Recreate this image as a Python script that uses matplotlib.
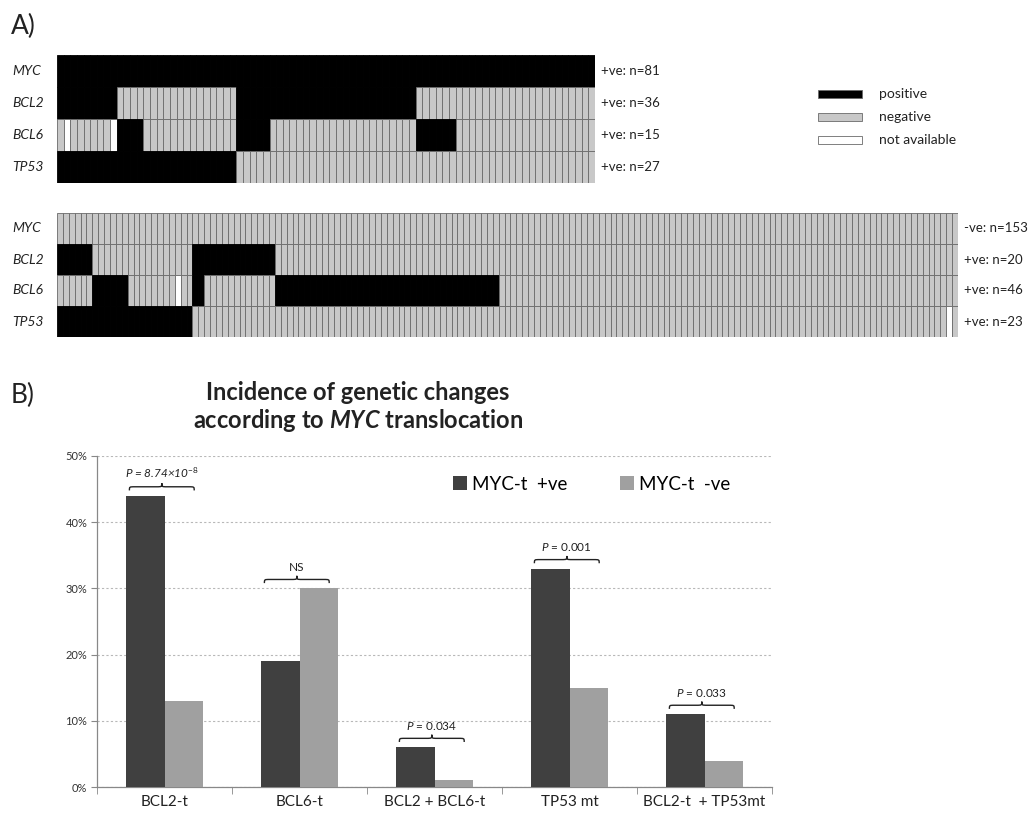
import numpy as np
import matplotlib.pyplot as plt
from matplotlib.path import Path
from matplotlib.patches import PathPatch, Rectangle
from matplotlib.transforms import blended_transform_factory

plt.rcParams['font.family'] = ['Lato', 'DejaVu Sans']
plt.rcParams['mathtext.fontset'] = 'custom'
plt.rcParams['mathtext.rm'] = 'Lato'
plt.rcParams['mathtext.it'] = 'Lato:italic'
plt.rcParams['mathtext.bf'] = 'Lato:bold'
plt.rcParams['mathtext.bfit'] = 'Lato:bold:italic'

# ---- panel A data: P = positive, N = negative, A = not available ----
genes = ["MYC", "BCL2", "BCL6", "TP53"]

top_rows = [
    "P" * 81,
    "P" * 9 + "N" * 18 + "P" * 27 + "N" * 27,
    "N" + "A" + "N" * 6 + "A" + "P" * 4 + "N" * 14 + "P" * 5 + "N" * 22 + "P" * 6 + "N" * 21,
    "P" * 27 + "N" * 54,
]
top_labels = ["+ve: n=81", "+ve: n=36", "+ve: n=15", "+ve: n=27"]

bottom_rows = [
    "N" * 153,
    "P" * 6 + "N" * 17 + "P" * 14 + "N" * 116,
    "N" * 6 + "P" * 6 + "N" * 8 + "A" + "N" * 2 + "P" * 2 + "N" * 12 + "P" * 38 + "N" * 78,
    "P" * 23 + "N" * 128 + "A" + "N",
]
bottom_labels = ["-ve: n=153", "+ve: n=20", "+ve: n=46", "+ve: n=23"]

status_names = ["positive", "negative", "not available"]

# ---- panel B data ----
categories = ["BCL2-t", "BCL6-t", "BCL2 + BCL6-t", "TP53 mt", "BCL2-t  + TP53mt"]
myc_pos = [44, 19, 6, 33, 11]
myc_neg = [13, 30, 1, 15, 4]
p_texts = [r"$P$ = 8.74×10$^{\mathit{-8}}$", "NS", r"$P$ = 0.034",
           r"$P$ = 0.001", r"$P$ = 0.033"]

face = {"P": "black", "N": "#c8c8c8", "A": "white"}
edge = {"P": "black", "N": "#6a6a6a", "A": "#6a6a6a"}

fig = plt.figure(figsize=(10.34, 8.17), dpi=100)
W, H = 1034.0, 817.0


def draw_grid(rect, rows, labels):
    ax = fig.add_axes(rect)
    n = len(rows[0])
    for r, row in enumerate(rows):
        ax.bar(np.arange(n), 1, bottom=r, width=1, align='edge',
               color=[face[c] for c in row], edgecolor=[edge[c] for c in row],
               linewidth=0.6)
    ax.set_xlim(0, n)
    ax.set_ylim(len(rows), 0)
    ax.axis('off')
    tr = blended_transform_factory(fig.transFigure, ax.transData)
    for r, g in enumerate(genes):
        ax.text(12 / W, r + 0.5, g, transform=tr, va='center', ha='left',
                fontsize=10, style='italic', color='#222222')
        ax.annotate(labels[r], (n, r + 0.5), xytext=(4, 0),
                    textcoords='offset points', va='center', ha='left',
                    fontsize=9.5, color='#222222', annotation_clip=False)
    return ax


draw_grid([57 / W, 1 - 183 / H, 538 / W, 128 / H], top_rows, top_labels)
draw_grid([57 / W, 1 - 337 / H, 901 / W, 124 / H], bottom_rows, bottom_labels)

# legend for panel A
for i, (key, name) in enumerate(zip("PNA", status_names)):
    yc = 1 - (94 + i * 23) / H
    fig.add_artist(Rectangle((818 / W, yc - 4 / H), 44 / W, 8 / H,
                             transform=fig.transFigure, facecolor=face[key],
                             edgecolor='#6a6a6a', linewidth=0.6))
    fig.text(879 / W, yc, name, va='center', ha='left', fontsize=10, color='#222222')

fig.text(11 / W, 1 - 26 / H, "A)", fontsize=19, va='center', ha='left', color='#222222')
fig.text(11 / W, 1 - 395 / H, "B)", fontsize=19, va='center', ha='left', color='#222222')
fig.text(358 / W, 1 - 392 / H, "Incidence of genetic changes", fontsize=17,
         weight='bold', ha='center', va='center', color='#222222')
fig.text(358 / W, 1 - 421 / H, r"according to $\mathbfit{MYC}$ translocation",
         fontsize=17, weight='bold', ha='center', va='center', color='#222222')

# ---- panel B chart ----
ax = fig.add_axes([97 / W, 1 - 787 / H, 675 / W, 331 / H])
x = np.arange(len(categories))
w = 0.284
ax.bar(x - w / 2, myc_pos, w, color='#404040', label='MYC-t  +ve', zorder=3)
ax.bar(x + w / 2, myc_neg, w, color='#a0a0a0', label='MYC-t  -ve', zorder=3)
ax.set_xlim(-0.5, len(categories) - 0.5)
ax.set_ylim(0, 50)
ax.set_yticks(range(0, 51, 10))
ax.set_yticklabels([f"{v}%" for v in range(0, 51, 10)], fontsize=8, color='#333333')
ax.yaxis.grid(True, color='#b8b8b8', linestyle=(0, (2, 2)), linewidth=0.8, zorder=0)
ax.set_axisbelow(True)
ax.set_xticks(x)
ax.set_xticklabels(categories, fontsize=11, color='#222222')
ax.set_xticks(np.arange(-0.5, len(categories)), minor=True)
ax.tick_params(axis='x', which='major', length=0, pad=6)
ax.tick_params(axis='x', which='minor', length=5, color='#888888', direction='out')
ax.tick_params(axis='y', length=4, color='#888888', pad=3)
for s in ['top', 'right']:
    ax.spines[s].set_visible(False)
for s in ['left', 'bottom']:
    ax.spines[s].set_color('#888888')
    ax.spines[s].set_linewidth(0.9)


def brace(ax, x0, x1, y, h=1.1, r=0.04):
    xm = (x0 + x1) / 2
    ym = y + h / 2
    verts = [(x0, y), (x0, ym), (x0, ym), (x0 + r, ym),
             (xm - r, ym),
             (xm, ym), (xm, ym), (xm, y + h),
             (xm, ym), (xm, ym), (xm + r, ym),
             (x1 - r, ym),
             (x1, ym), (x1, ym), (x1, y)]
    codes = [Path.MOVETO] + [Path.CURVE4] * 3 + [Path.LINETO] + [Path.CURVE4] * 6 \
        + [Path.LINETO] + [Path.CURVE4] * 3
    ax.add_patch(PathPatch(Path(verts, codes), facecolor='none',
                           edgecolor='#222222', linewidth=1.0, zorder=4))


for i in range(len(categories)):
    top = max(myc_pos[i], myc_neg[i]) + 0.8
    brace(ax, i - 0.26, i + 0.22, top)
    ax.text(i - 0.02, top + 1.5, p_texts[i], ha='center', va='bottom',
            fontsize=8.5, style='italic' if i == 0 else 'normal', color='#222222')

ax.legend(loc='upper left', bbox_to_anchor=(436 / W, 1 - 459 / H),
          bbox_transform=fig.transFigure, ncol=2, frameon=False, fontsize=13.5,
          handlelength=0.75, handleheight=0.75, handletextpad=0.27, columnspacing=2.8)

fig.savefig("out.png", dpi=100)
